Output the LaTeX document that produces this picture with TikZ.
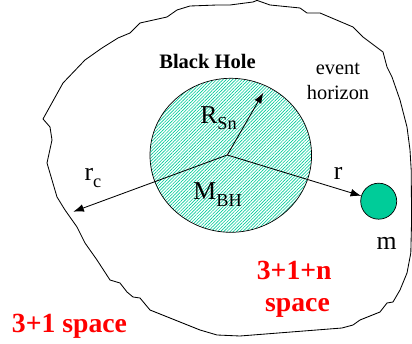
\documentclass[tikz,border=0pt]{standalone}
\usepackage{fontspec}
\setmainfont{Liberation Serif}
\usetikzlibrary{arrows.meta,patterns.meta,shapes.geometric}
\definecolor{bhgreen}{RGB}{0,204,153}
\definecolor{bhfill}{RGB}{232,249,244}
\newcommand{\lowsub}[1]{\raisebox{-4.6pt}{\fontsize{13}{15}\selectfont #1}}
\tikzset{
  lbl/.style={font=\fontsize{18.3}{21}\selectfont, inner sep=0pt, anchor=base west},
  redlbl/.style={font=\fontsize{19.7}{23}\selectfont\bfseries, text=red, inner sep=0pt},
  vec/.style={-{Latex[length=7.5pt,width=5.5pt]}, line width=0.6pt},
}

\begin{document}
\begin{tikzpicture}
  \useasboundingbox (0,0) rectangle (10.3,8.6);
  % boundary of the 3+1+n region
  \draw[line width=0.6pt, line join=round]
    (1.075,5.625) -- (1.575,6.525) -- (2.125,7.1) -- (2.55,7.4) -- (2.95,7.65)
    -- (3.25,7.775) -- (3.5,8.025) -- (4.175,8.175) -- (4.425,8.35) -- (4.75,8.45)
    -- (5.425,8.475) -- (5.75,8.475) -- (6.325,8.55) -- (6.425,8.59) -- (6.75,8.475)
    -- (7.5,8.4) -- (7.675,8.275) -- (8.0,8.275) -- (8.825,7.925) -- (9.075,7.675)
    -- (9.575,7.3) -- (9.675,6.925) -- (9.8,6.675) -- (10.0,6.1) -- (10.175,5.425)
    -- (10.25,4.85) -- (10.28,4.35) -- (10.29,3.1) -- (10.27,2.275) -- (10.175,1.775)
    -- (10.0,1.35) -- (9.825,1.05) -- (9.675,1.025) -- (9.5,0.8) -- (9.0,0.6)
    -- (8.825,0.475) -- (8.55,0.4) -- (6.0,0.2) -- (5.425,0.225) -- (5.0,0.35)
    -- (3.75,0.85) -- (3.5,1.15) -- (3.325,1.175) -- (3.175,1.3) -- (3.0,1.525)
    -- (2.75,1.6) -- (2.425,2.1) -- (2.125,2.525) -- (1.925,2.925) -- (1.625,3.35)
    -- (1.425,3.675) -- (1.175,4.525) -- (1.3,5.1) -- (1.25,5.425) -- cycle;
  % black hole and test mass
  \node[ellipse, draw, line width=0.5pt, fill=bhfill,
        pattern={Lines[angle=45,distance=1.6pt,line width=0.45pt]}, pattern color=bhgreen,
        minimum width=4.04cm, minimum height=3.85cm] (bh) at (5.77,4.7175) {};
  \node[circle, draw, line width=0.5pt, fill=bhgreen, minimum size=0.9cm, inner sep=0pt] (mass) at (9.4675,3.57) {};
  \coordinate (o) at (5.6825,4.725);
  \coordinate (rs) at (6.5825,6.2825);
  \coordinate (rc) at (1.8325,3.3075);
  \draw[vec] (o) -- (rs);
  \draw[vec] (o) -- (rc);
  \draw[vec] (o) -- (mass);
  % labels
  \node[font=\fontsize{14.6}{17}\selectfont\bfseries] (title) at (5.1875,7.075) {Black Hole};
  \node[font=\fontsize{14.5}{17}\selectfont, anchor=base] (evt) at (8.45,6.725) {event};
  \node[font=\fontsize{14.5}{17}\selectfont, anchor=base] (hor) at (8.45,6.1) {horizon};
  \node[lbl] (rslbl) at (5.0,5.5175) {R\lowsub{Sn}};
  \node[lbl] (mlbl) at (4.83,3.6) {M\lowsub{BH}};
  \node[lbl] (rclbl) at (2.11,4.0825) {r\lowsub{c}};
  \node[lbl] (rlbl) at (8.34,4.1) {r};
  \node[lbl] (masslbl) at (9.41,2.35) {m};
  \node[redlbl, anchor=base] (inner) at (7.355,1.6) {3+1+n};
  \node[redlbl, anchor=base] (innersp) at (7.4375,0.8075) {space};
  \node[redlbl, anchor=base west] (outer) at (0.2925,0.275) {3+1 space};
\end{tikzpicture}
\end{document}
